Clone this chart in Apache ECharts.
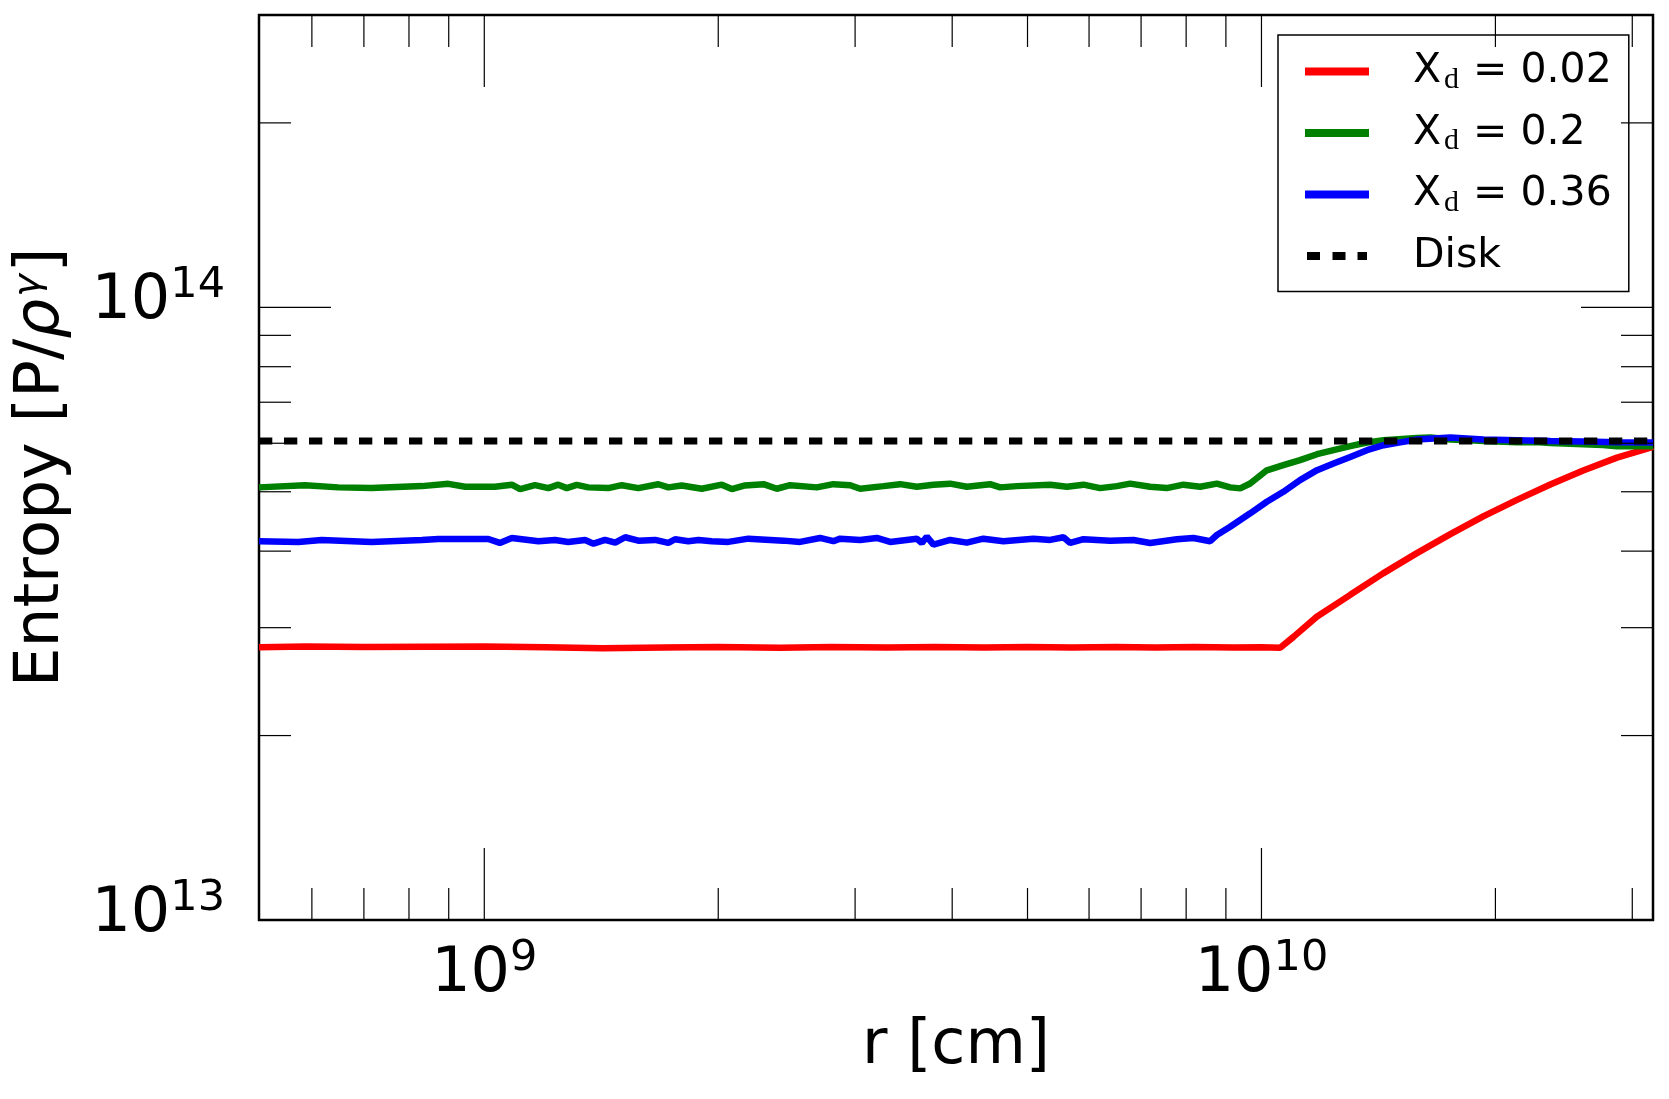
<!DOCTYPE html>
<html><head><meta charset="utf-8">
<script src="https://cdn.jsdelivr.net/npm/echarts@6/dist/echarts.min.js"></script>
<style>html,body{margin:0;padding:0;background:#fff}#chart{width:1669px;height:1099px}</style>
</head><body><div id="chart"></div>
<script>
// ---- axis ranges and ticks ----
const xMin = 5.13e8, xMax = 3.19e10;
const yMin = 1e13, yMax = 3e14;
const xMajorTicks = [1e9, 1e10];
const xMinorTicks = [6e8, 7e8, 8e8, 9e8, 2e9, 3e9, 4e9, 5e9, 6e9, 7e9, 8e9, 9e9, 2e10, 3e10];
const yMajorTicks = [1e14];
const yMinorTicks = [2e13, 3e13, 4e13, 5e13, 6e13, 7e13, 8e13, 9e13, 2e14];
const seriesNames = ['Xd = 0.02', 'Xd = 0.2', 'Xd = 0.36', 'Disk'];

// ---- data ----
const redR = [5.13e8, 5.9e8, 7.0e8, 8.5e8, 1.0e9, 1.2e9, 1.42e9, 1.7e9, 2.0e9, 2.4e9, 2.8e9, 3.3e9, 3.8e9, 4.4e9, 5.0e9, 5.7e9, 6.5e9, 7.3e9, 8.2e9, 9.2e9, 1.0e10, 1.057e10, 1.0995e10, 1.178e10, 1.301e10, 1.434e10, 1.585e10, 1.750e10, 1.929e10, 2.132e10, 2.353e10, 2.594e10, 2.867e10, 3.19e10];
const redS = [2.786e13, 2.795e13, 2.789e13, 2.792e13, 2.794e13, 2.787e13, 2.778e13, 2.785e13, 2.789e13, 2.783e13, 2.790e13, 2.785e13, 2.791e13, 2.784e13, 2.789e13, 2.785e13, 2.791e13, 2.785e13, 2.790e13, 2.785e13, 2.788e13, 2.781e13, 2.898e13, 3.125e13, 3.394e13, 3.679e13, 3.970e13, 4.263e13, 4.558e13, 4.850e13, 5.137e13, 5.416e13, 5.684e13, 5.917e13];

const greenR = [5.13e8, 5.88e8, 6.49e8, 7.16e8, 8.31e8, 8.99e8, 9.45e8, 1.032e9, 1.085e9, 1.112e9, 1.162e9, 1.209e9, 1.245e9, 1.277e9, 1.315e9, 1.361e9, 1.444e9, 1.503e9, 1.578e9, 1.675e9, 1.725e9, 1.795e9, 1.905e9, 2.021e9, 2.082e9, 2.165e9, 2.287e9, 2.379e9, 2.475e9, 2.678e9, 2.813e9, 2.957e9, 3.045e9, 3.263e9, 3.428e9, 3.602e9, 3.784e9, 3.976e9, 4.177e9, 4.475e9, 4.610e9, 4.844e9, 5.348e9, 5.619e9, 5.902e9, 6.200e9, 6.515e9, 6.776e9, 7.190e9, 7.554e9, 7.937e9, 8.339e9, 8.762e9, 9.115e9, 9.389e9, 9.672e9, 1.016e10, 1.067e10, 1.121e10, 1.179e10, 1.238e10, 1.301e10, 1.367e10, 1.436e10, 1.585e10, 1.65e10, 1.750e10, 1.85e10, 1.931e10, 2.132e10, 2.25e10, 2.353e10, 2.597e10, 2.75e10, 2.867e10, 3.19e10];
const greenS = [5.083e13, 5.125e13, 5.083e13, 5.069e13, 5.107e13, 5.151e13, 5.094e13, 5.094e13, 5.135e13, 5.051e13, 5.125e13, 5.069e13, 5.135e13, 5.069e13, 5.130e13, 5.083e13, 5.069e13, 5.125e13, 5.069e13, 5.143e13, 5.083e13, 5.120e13, 5.057e13, 5.135e13, 5.051e13, 5.120e13, 5.145e13, 5.057e13, 5.125e13, 5.083e13, 5.145e13, 5.125e13, 5.057e13, 5.107e13, 5.145e13, 5.094e13, 5.135e13, 5.155e13, 5.094e13, 5.145e13, 5.083e13, 5.107e13, 5.135e13, 5.094e13, 5.135e13, 5.069e13, 5.107e13, 5.155e13, 5.094e13, 5.069e13, 5.135e13, 5.094e13, 5.155e13, 5.083e13, 5.064e13, 5.158e13, 5.420e13, 5.525e13, 5.630e13, 5.758e13, 5.845e13, 5.934e13, 6.016e13, 6.068e13, 6.120e13, 6.130e13, 6.084e13, 6.070e13, 6.052e13, 6.020e13, 6.030e13, 6.007e13, 5.978e13, 5.960e13, 5.934e13, 5.934e13];

const blueR = [5.13e8, 5.763e8, 6.176e8, 7.16e8, 8.31e8, 8.727e8, 1.012e9, 1.047e9, 1.085e9, 1.174e9, 1.233e9, 1.282e9, 1.348e9, 1.382e9, 1.430e9, 1.474e9, 1.518e9, 1.578e9, 1.659e9, 1.725e9, 1.760e9, 1.830e9, 1.886e9, 1.962e9, 2.061e9, 2.187e9, 2.426e9, 2.549e9, 2.704e9, 2.813e9, 2.870e9, 3.045e9, 3.199e9, 3.328e9, 3.602e9, 3.656e9, 3.710e9, 3.784e9, 3.976e9, 4.177e9, 4.387e9, 4.656e9, 5.089e9, 5.348e9, 5.562e9, 5.674e9, 5.902e9, 6.387e9, 6.843e9, 7.190e9, 7.783e9, 7.937e9, 8.175e9, 8.591e9, 8.762e9, 9.115e9, 9.389e9, 9.672e9, 1.016e10, 1.067e10, 1.121e10, 1.179e10, 1.238e10, 1.301e10, 1.367e10, 1.436e10, 1.509e10, 1.585e10, 1.665e10, 1.750e10, 1.931e10, 2.132e10, 2.353e10, 2.597e10, 2.867e10, 3.19e10];
const blueS = [4.152e13, 4.141e13, 4.172e13, 4.141e13, 4.172e13, 4.187e13, 4.187e13, 4.125e13, 4.203e13, 4.152e13, 4.172e13, 4.141e13, 4.172e13, 4.114e13, 4.172e13, 4.130e13, 4.214e13, 4.161e13, 4.172e13, 4.125e13, 4.183e13, 4.152e13, 4.172e13, 4.152e13, 4.141e13, 4.192e13, 4.161e13, 4.141e13, 4.203e13, 4.152e13, 4.192e13, 4.172e13, 4.203e13, 4.141e13, 4.192e13, 4.125e13, 4.224e13, 4.099e13, 4.172e13, 4.130e13, 4.192e13, 4.152e13, 4.192e13, 4.172e13, 4.214e13, 4.125e13, 4.183e13, 4.161e13, 4.172e13, 4.125e13, 4.183e13, 4.192e13, 4.203e13, 4.152e13, 4.250e13, 4.384e13, 4.496e13, 4.611e13, 4.816e13, 4.999e13, 5.223e13, 5.423e13, 5.562e13, 5.699e13, 5.845e13, 5.956e13, 6.020e13, 6.084e13, 6.107e13, 6.130e13, 6.084e13, 6.068e13, 6.052e13, 6.038e13, 6.020e13, 6.016e13];

const diskR = [5.13e8, 3.19e10];
const diskS = [6.05e13, 6.05e13];

// ---- chart ----
const FONT = 'DejaVu Sans';
const zip = (r, s) => r.map((v, i) => [v, s[i]]);
const chart = echarts.init(document.getElementById('chart'), null, { renderer: 'canvas' });

function xTicks(len) {
  return function (params, api) {
    const cs = params.coordSys;
    const x = api.coord([api.value(0), api.value(1)])[0];
    const yb = cs.y + cs.height, yt = cs.y;
    return { type: 'group', children: [
      { type: 'line', shape: { x1: x, y1: yb, x2: x, y2: yb - len }, style: { stroke: '#000', lineWidth: 1.2 } },
      { type: 'line', shape: { x1: x, y1: yt, x2: x, y2: yt + len }, style: { stroke: '#000', lineWidth: 1.2 } }
    ] };
  };
}
function yTicks(len) {
  return function (params, api) {
    const cs = params.coordSys;
    const y = api.coord([api.value(0), api.value(1)])[1];
    const xl = cs.x, xr = cs.x + cs.width;
    return { type: 'group', children: [
      { type: 'line', shape: { x1: xl, y1: y, x2: xl + len, y2: y }, style: { stroke: '#000', lineWidth: 1.2 } },
      { type: 'line', shape: { x1: xr, y1: y, x2: xr - len, y2: y }, style: { stroke: '#000', lineWidth: 1.2 } }
    ] };
  };
}
const powLabel = v => '{b|10}{s|' + Math.round(Math.log10(v)) + '}';
const labelRich = {
  b: { fontFamily: FONT, fontSize: 62, lineHeight: 76, color: '#000' },
  s: { fontFamily: FONT, fontSize: 43, lineHeight: 42, verticalAlign: 'top', color: '#000' }
};
const dashIcon = 'path://M2,0h13v8h-13z M27.5,0h13v8h-13z M52.5,0h9.5v8h-9.5z';

const option = {
  animation: false,
  backgroundColor: '#fff',
  grid: { left: 259, right: 16, top: 15, bottom: 179, show: true, borderColor: '#000', borderWidth: 2.5,
          backgroundColor: 'transparent', containLabel: false, outerBoundsMode: 'none' },
  xAxis: {
    type: 'log', logBase: 10, min: xMin, max: xMax, position: 'bottom',
    axisLine: { show: false }, axisTick: { show: false }, splitLine: { show: false }, minorTick: { show: false },
    axisLabel: { margin: 17, showMinLabel: false, showMaxLabel: false, fontFamily: FONT, formatter: powLabel, rich: labelRich },
    name: 'r [cm]', nameLocation: 'middle', nameGap: 96,
    nameTextStyle: { fontFamily: FONT, fontSize: 62, lineHeight: 62, color: '#000' }
  },
  yAxis: {
    type: 'log', logBase: 10, min: yMin, max: yMax,
    axisLine: { show: false }, axisTick: { show: false }, splitLine: { show: false }, minorTick: { show: false },
    axisLabel: { margin: 34, showMaxLabel: false, fontFamily: FONT, padding: [0, 0, 10, 0], formatter: powLabel, rich: labelRich },
    name: '{a|Entropy [P/}{g|ρ}{s|γ}{a|]}', nameLocation: 'middle', nameGap: 186, nameRotate: 90,
    nameTextStyle: { fontFamily: FONT, color: '#000', rich: {
      a: { fontFamily: FONT, fontSize: 63, lineHeight: 63, color: '#000' },
      g: { fontFamily: FONT, fontStyle: 'italic', fontSize: 63, lineHeight: 63, color: '#000' },
      s: { fontFamily: FONT, fontStyle: 'italic', fontSize: 38, lineHeight: 26, verticalAlign: 'top', padding: [0, 2, 0, 2], color: '#000' }
    } }
  },
  legend: {
    orient: 'vertical', left: 1278, top: 35, padding: [16, 17, 15, 27], itemGap: 17.5,
    itemWidth: 64, itemHeight: 8, borderColor: '#000', borderWidth: 1.5, backgroundColor: '#fff',
    selectedMode: false, itemStyle: { borderWidth: 0 },
    data: [
      { name: seriesNames[0], icon: 'rect' },
      { name: seriesNames[1], icon: 'rect' },
      { name: seriesNames[2], icon: 'rect' },
      { name: seriesNames[3], icon: dashIcon }
    ],
    formatter: function (name) {
      if (name.indexOf('Xd') === 0) return '{x|X}{d|d}{t|' + name.slice(2) + '}';
      return '{t|' + name + '}';
    },
    textStyle: { fontFamily: FONT, color: '#000', padding: [0, 0, 0, 39], rich: {
      x: { fontFamily: FONT, fontSize: 41, lineHeight: 47, color: '#000' },
      d: { fontFamily: 'Liberation Serif', fontSize: 30, lineHeight: 22, verticalAlign: 'bottom', padding: [0, 1, 0, 3], color: '#000' },
      t: { fontFamily: FONT, fontSize: 41, lineHeight: 47, color: '#000' }
    } }
  },
  series: [
    { name: seriesNames[0], type: 'line', data: zip(redR, redS), symbol: 'none', showSymbol: false,
      lineStyle: { color: '#ff0000', width: 6.5 }, itemStyle: { color: '#ff0000' }, z: 3, silent: true },
    { name: seriesNames[1], type: 'line', data: zip(greenR, greenS), symbol: 'none', showSymbol: false,
      lineStyle: { color: '#008000', width: 6.5 }, itemStyle: { color: '#008000' }, z: 4, silent: true },
    { name: seriesNames[2], type: 'line', data: zip(blueR, blueS), symbol: 'none', showSymbol: false,
      lineStyle: { color: '#0000ff', width: 6.5 }, itemStyle: { color: '#0000ff' }, z: 5, silent: true },
    { name: seriesNames[3], type: 'line', data: zip(diskR, diskS), symbol: 'none', showSymbol: false,
      lineStyle: { color: '#000000', width: 7, type: [13.3, 11.7] }, itemStyle: { color: '#000000' }, z: 6, silent: true },
    { type: 'custom', renderItem: xTicks(72), data: xMajorTicks.map(v => [v, yMin]), z: 10, silent: true, clip: false },
    { type: 'custom', renderItem: xTicks(32), data: xMinorTicks.map(v => [v, yMin]), z: 10, silent: true, clip: false },
    { type: 'custom', renderItem: yTicks(72), data: yMajorTicks.map(v => [xMin, v]), z: 10, silent: true, clip: false },
    { type: 'custom', renderItem: yTicks(32), data: yMinorTicks.map(v => [xMin, v]), z: 10, silent: true, clip: false }
  ]
};
chart.setOption(option);
</script></body></html>
